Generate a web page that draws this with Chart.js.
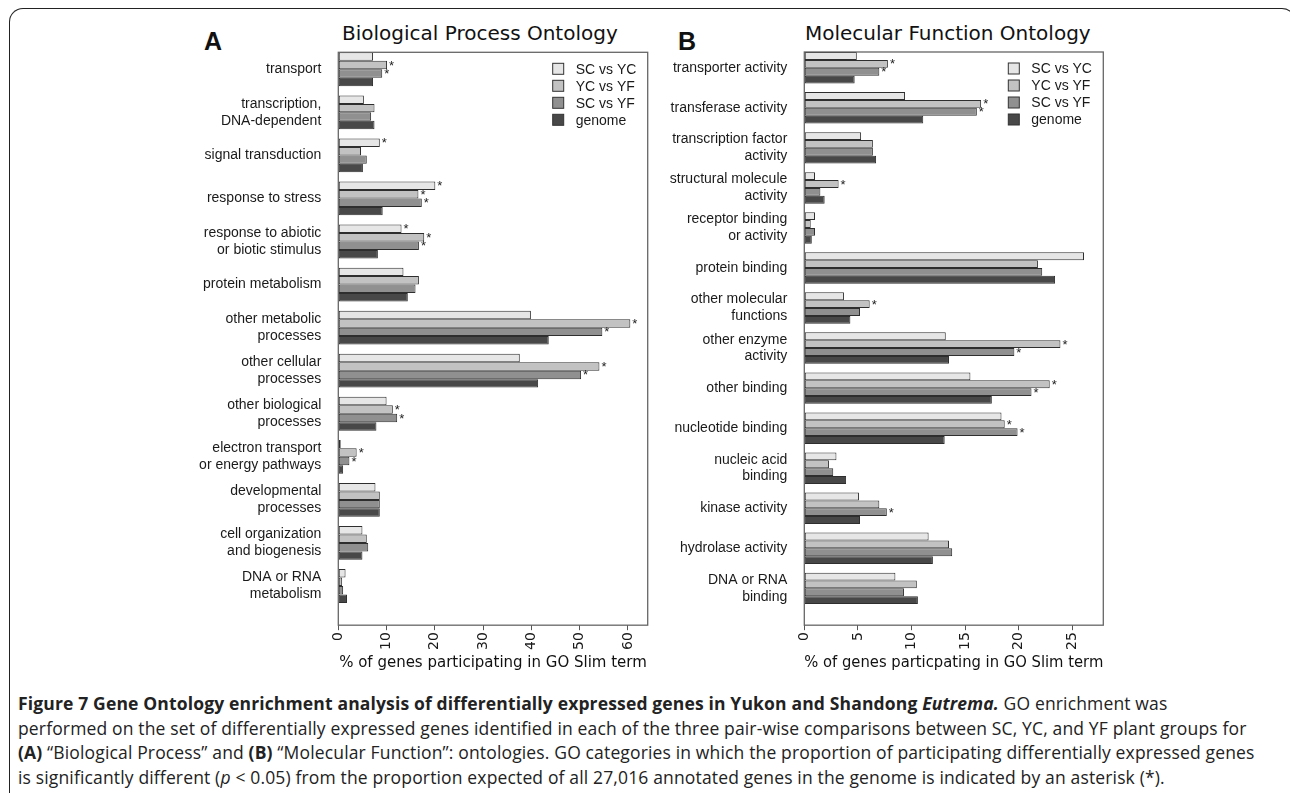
<!DOCTYPE html>
<html>
<head>
<meta charset="utf-8">
<script src="https://cdn.jsdelivr.net/npm/chart.js@4.4.1/dist/chart.umd.min.js"></script>
<style>
    body { margin: 0; background: #fff; }
    #page { position: relative; width: 1290px; height: 793px; overflow: hidden; }
    #frame {
        position: absolute; left: 9px; top: 8px; width: 1285px; height: 900px;
        border: 1.5px solid #222; border-bottom: none; border-radius: 14px 14px 0 0;
    }
    canvas { position: absolute; top: 0; }
    .letter { position: absolute; top: 29px; font: bold 25px "Liberation Sans", Arial, sans-serif; line-height: 25px; color: #111; }
    .title { position: absolute; top: 23px; font: 20px "DejaVu Sans", sans-serif; line-height: 20px; color: #111; }
    #caption {
        position: absolute; left: 18px; top: 691px; width: 1265px;
        font: 17.5px "Open Sans", sans-serif; letter-spacing: 0.15px; line-height: 24.7px; color: #222; white-space: nowrap;
    }
</style>
</head>
<body>
<div id="page">
    <div id="frame"></div>
    <div class="letter" style="left:204px">A</div>
    <div class="title" style="left:342px">Biological Process Ontology</div>
    <div class="letter" style="left:678px">B</div>
    <div class="title" style="left:805px">Molecular Function Ontology</div>
    <canvas id="bp" width="660" height="672" style="left:0"></canvas>
    <canvas id="mf" width="630" height="672" style="left:660px"></canvas>
    <div id="caption"><b>Figure 7 Gene Ontology enrichment analysis of differentially expressed genes in Yukon and Shandong <i>Eutrema.</i></b> GO enrichment was<br>performed on the set of differentially expressed genes identified in each of the three pair-wise comparisons between SC, YC, and YF plant groups for<br><b>(A)</b> “Biological Process” and <b>(B)</b> “Molecular Function”: ontologies. GO categories in which the proportion of participating differentially expressed genes<br>is significantly different (<i>p</i> &lt; 0.05) from the proportion expected of all 27,016 annotated genes in the genome is indicated by an asterisk (*).</div>
</div>
<script>
const seriesNames = ['SC vs YC', 'YC vs YF', 'SC vs YF', 'genome'];
const seriesColors = ['#e6e6e6', '#c2c2c2', '#909090', '#484848'];

// A - biological process
const bpCategories = [
    ['transport'], ['transcription,', 'DNA-dependent'], ['signal transduction'], ['response to stress'],
    ['response to abiotic', 'or biotic stimulus'], ['protein metabolism'], ['other metabolic', 'processes'],
    ['other cellular', 'processes'], ['other biological', 'processes'], ['electron transport', 'or energy pathways'],
    ['developmental', 'processes'], ['cell organization', 'and biogenesis'], ['DNA or RNA', 'metabolism']
];
const bpScYc = [7.2, 5.3, 8.6, 20.1, 13.1, 13.5, 39.9, 37.6, 10.0, 0.5, 7.7, 5.0, 1.5];
const bpYcYf = [10.1, 7.5, 4.7, 16.6, 17.8, 16.7, 60.5, 54.1, 11.3, 3.8, 8.6, 5.9, 0.8];
const bpScYf = [9.1, 6.8, 5.9, 17.3, 16.7, 16.0, 54.7, 50.3, 12.2, 2.3, 8.6, 6.2, 1.0];
const bpGenome = [7.2, 7.5, 5.1, 9.2, 8.2, 14.4, 43.6, 41.4, 7.9, 1.0, 8.6, 5.0, 1.8];
// asterisks (1 = significant)
const bpStarScYc = [0, 0, 1, 1, 1, 0, 0, 0, 0, 0, 0, 0, 0];
const bpStarYcYf = [1, 0, 0, 1, 1, 0, 1, 1, 1, 1, 0, 0, 0];
const bpStarScYf = [1, 0, 0, 1, 1, 0, 1, 1, 1, 1, 0, 0, 0];
const bpTicks = [0, 10, 20, 30, 40, 50, 60];

// B - molecular function
const mfCategories = [
    ['transporter activity'], ['transferase activity'], ['transcription factor', 'activity'],
    ['structural molecule', 'activity'], ['receptor binding', 'or activity'], ['protein binding'],
    ['other molecular', 'functions'], ['other enzyme', 'activity'], ['other binding'], ['nucleotide binding'],
    ['nucleic acid', 'binding'], ['kinase activity'], ['hydrolase activity'], ['DNA or RNA', 'binding']
];
const mfScYc = [4.9, 9.4, 5.3, 1.0, 1.0, 26.1, 3.7, 13.2, 15.5, 18.4, 3.0, 5.1, 11.6, 8.5];
const mfYcYf = [7.8, 16.5, 6.4, 3.2, 0.6, 21.8, 6.1, 23.9, 22.9, 18.7, 2.3, 7.0, 13.5, 10.5];
const mfScYf = [7.0, 16.1, 6.4, 1.5, 1.0, 22.2, 5.2, 19.6, 21.2, 19.9, 2.7, 7.7, 13.8, 9.3];
const mfGenome = [4.7, 11.1, 6.7, 1.9, 0.7, 23.4, 4.3, 13.5, 17.5, 13.1, 3.9, 5.2, 12.0, 10.6];
const mfStarScYc = [0, 0, 0, 0, 0, 0, 0, 0, 0, 0, 0, 0, 0, 0];
const mfStarYcYf = [1, 1, 0, 1, 0, 0, 1, 1, 1, 1, 0, 0, 0, 0];
const mfStarScYf = [1, 1, 0, 0, 0, 0, 0, 1, 1, 1, 0, 1, 0, 0];
const mfTicks = [0, 5, 10, 15, 20, 25];

// box round the plot, asterisks, legend inside the plot
const extras = {
    id: 'extras',
    afterDatasetsDraw(chart) {
        const ctx = chart.ctx;
        const area = chart.chartArea;
        ctx.save();
        ctx.font = '13px "Liberation Sans", Arial, sans-serif';
        ctx.fillStyle = '#222';
        ctx.textAlign = 'left';
        ctx.textBaseline = 'middle';
        chart.data.datasets.forEach((ds, i) => {
            const meta = chart.getDatasetMeta(i);
            meta.data.forEach((bar, j) => {
                if (ds.stars && ds.stars[j]) ctx.fillText('*', bar.x + 2, bar.y + 1);
            });
        });
        ctx.strokeStyle = '#666';
        ctx.lineWidth = 1.3;
        ctx.strokeRect(area.left, area.top, area.right - area.left, area.bottom - area.top);

        ctx.font = '14px "Liberation Sans", Arial, sans-serif';
        ctx.lineWidth = 1;
        chart.data.datasets.forEach((ds, i) => {
            const y = area.top + 16.5 + i * 17;
            ctx.fillStyle = ds.backgroundColor;
            ctx.fillRect(area.right - 95, y - 5.5, 11, 11);
            ctx.strokeStyle = '#333';
            ctx.strokeRect(area.right - 95, y - 5.5, 11, 11);
            ctx.fillStyle = '#1a1a1a';
            ctx.fillText(ds.label, area.right - 72, y + 1);
        });
        ctx.restore();
    }
};

function createChart(id, categories, series, stars, ticks, xMax, yMax, pad, axisWidth, xTitle) {
    const datasets = series.map((values, i) => ({
        label: seriesNames[i],
        data: values.map((v, j) => ({x: v, y: j})),
        stars: stars[i],
        backgroundColor: seriesColors[i],
        borderColor: '#2e2e2e',
        borderWidth: 1,
        borderSkipped: false,
        categoryPercentage: 0.785,
        barPercentage: 1
    }));

    return new Chart(document.getElementById(id).getContext('2d'), {
        type: 'bar',
        data: {datasets},
        plugins: [extras],
        options: {
            indexAxis: 'y',
            responsive: false,
            animation: false,
            layout: {padding: pad},
            plugins: {legend: {display: false}, tooltip: {enabled: false}},
            scales: {
                y: {
                    type: 'linear',
                    reverse: true,
                    offset: false,
                    min: -0.394,
                    max: yMax,
                    afterBuildTicks: s => { s.ticks = categories.map((c, i) => ({value: i})); },
                    afterFit: s => { s.width = axisWidth; },
                    grid: {display: false, drawTicks: false, offset: false},
                    border: {display: false},
                    ticks: {
                        autoSkip: false,
                        padding: 17,
                        color: '#1a1a1a',
                        font: {family: '"Liberation Sans", Arial, sans-serif', size: 14, lineHeight: 1.2},
                        callback: v => categories[v]
                    }
                },
                x: {
                    type: 'linear',
                    min: 0,
                    max: xMax,
                    afterBuildTicks: s => { s.ticks = ticks.map(t => ({value: t})); },
                    grid: {drawOnChartArea: false, drawTicks: true, tickLength: 5, color: '#555'},
                    border: {display: false},
                    ticks: {
                        minRotation: 90,
                        maxRotation: 90,
                        padding: 2,
                        color: '#1a1a1a',
                        font: {family: '"DejaVu Sans", sans-serif', size: 14}
                    },
                    title: {
                        display: true,
                        text: xTitle,
                        color: '#111',
                        padding: {top: 2, bottom: 0},
                        font: {family: '"DejaVu Sans", sans-serif', size: 15}
                    }
                }
            }
        }
    });
}

createChart('bp', bpCategories, [bpScYc, bpYcYf, bpScYf, bpGenome], [bpStarScYc, bpStarYcYf, bpStarScYf, []],
    bpTicks, 64.1, 12.91, {top: 52.3, right: 12.3, left: 0, bottom: 0}, 338.3,
    '% of genes participating in GO Slim term');

createChart('mf', mfCategories, [mfScYc, mfYcYf, mfScYf, mfGenome], [mfStarScYc, mfStarYcYf, mfStarScYf, []],
    mfTicks, 27.9, 13.92, {top: 52, right: 186.7, left: 0, bottom: 0}, 144.3,
    '% of genes particpating in GO Slim term');
</script>
</body>
</html>
